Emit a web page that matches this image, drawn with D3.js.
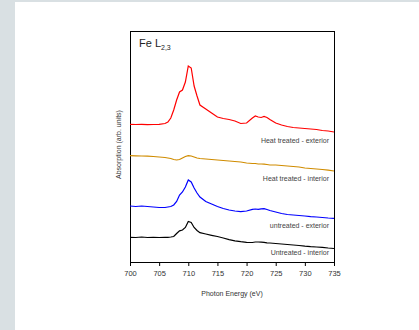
<!DOCTYPE html>
<html>
<head>
<meta charset="utf-8">
<script src="https://cdn.jsdelivr.net/npm/d3@7"></script>
<style>
	html, body { margin: 0; padding: 0; background: #d9e0e3; }
	#chart { position: absolute; left: 15px; top: 2px; width: 404px; height: 328px; background: #fff; }
	text { font-family: 'Liberation Sans', Arial, sans-serif; }
</style>
</head>
<body>
<div id="chart"></div>
<script>
var energies = [700, 701, 702, 703, 704, 705, 706, 706.5, 707, 707.5, 708, 708.5, 709, 709.5, 710, 710.5, 711, 711.5, 712, 713, 714, 715, 716, 717, 718, 719, 720, 721, 721.5, 722, 722.5, 723, 723.5, 724, 725, 726, 727, 728, 729, 730, 731, 732, 733, 734, 735];

var heatExterior = [1.377, 1.375, 1.377, 1.374, 1.375, 1.377, 1.385, 1.40, 1.44, 1.52, 1.62, 1.70, 1.72, 1.80, 1.96, 1.94, 1.76, 1.66, 1.57, 1.53, 1.49, 1.45, 1.435, 1.425, 1.41, 1.385, 1.39, 1.44, 1.46, 1.45, 1.445, 1.455, 1.445, 1.425, 1.39, 1.37, 1.355, 1.345, 1.34, 1.335, 1.33, 1.325, 1.315, 1.31, 1.30];

var heatInterior = [1.063, 1.062, 1.06, 1.058, 1.055, 1.05, 1.045, 1.04, 1.035, 1.025, 1.02, 1.025, 1.04, 1.055, 1.063, 1.06, 1.05, 1.04, 1.035, 1.03, 1.025, 1.02, 1.015, 1.01, 1.005, 1.0, 0.99, 0.985, 0.985, 0.98, 0.98, 0.978, 0.975, 0.97, 0.97, 0.965, 0.96, 0.955, 0.95, 0.94, 0.935, 0.93, 0.925, 0.918, 0.91];

var untreatedExterior = [0.56, 0.555, 0.56, 0.555, 0.55, 0.545, 0.545, 0.55, 0.555, 0.57, 0.605, 0.67, 0.70, 0.75, 0.82, 0.80, 0.74, 0.69, 0.65, 0.605, 0.58, 0.555, 0.535, 0.52, 0.51, 0.503, 0.51, 0.527, 0.53, 0.527, 0.532, 0.533, 0.525, 0.515, 0.50, 0.485, 0.475, 0.47, 0.465, 0.46, 0.453, 0.45, 0.445, 0.44, 0.437];

var untreatedInterior = [0.247, 0.245, 0.25, 0.245, 0.247, 0.245, 0.247, 0.247, 0.25, 0.255, 0.285, 0.312, 0.32, 0.345, 0.405, 0.395, 0.345, 0.315, 0.293, 0.28, 0.267, 0.255, 0.24, 0.223, 0.212, 0.203, 0.197, 0.195, 0.20, 0.20, 0.198, 0.196, 0.192, 0.19, 0.185, 0.18, 0.175, 0.17, 0.165, 0.158, 0.153, 0.15, 0.147, 0.14, 0.135];

var seriesNames = ['Heat treated - exterior', 'Heat treated - interior', 'untreated - exterior', 'Untreated - interior'];
var seriesValues = [heatExterior, heatInterior, untreatedExterior, untreatedInterior];
var seriesColors = ['#ff0000', '#d08c00', '#0000ff', '#000000'];
var labelLevels = [1.19, 0.81, 0.34, 0.07];

var xTicks = [700, 705, 710, 715, 720, 725, 730, 735];

// chart box inside the white card
var margin = { top: 29, right: 85, bottom: 68, left: 115 };
var fullW = 404, fullH = 328;
var width = fullW - margin.left - margin.right;
var height = fullH - margin.top - margin.bottom;

var svg = d3.select('#chart').append('svg')
	.attr('width', fullW)
	.attr('height', fullH)
	.append('g')
	.attr('transform', 'translate(' + margin.left + ',' + margin.top + ')');

var x = d3.scaleLinear().domain([700, 735]).range([0, width]);
var y = d3.scaleLinear().domain([0, 2.31]).range([height, 0]);

// frame
svg.append('rect')
	.attr('x', 0.5)
	.attr('y', 0.5)
	.attr('width', width)
	.attr('height', height)
	.attr('fill', 'none')
	.attr('stroke', '#000')
	.attr('stroke-width', 1);

var xAxis = d3.axisBottom(x)
	.tickValues(xTicks)
	.tickSize(4)
	.tickSizeOuter(0)
	.tickPadding(5);

var gx = svg.append('g')
	.attr('class', 'x axis')
	.attr('transform', 'translate(0,' + height + ')')
	.call(xAxis);
gx.select('.domain').attr('stroke', '#000');
gx.selectAll('line').attr('stroke', '#000');
gx.selectAll('text')
	.style('font-size', '7.5px')
	.attr('fill', '#333');

// lines
var line = d3.line()
	.x(function(d, i) { return x(energies[i]); })
	.y(function(d) { return y(d); });

seriesValues.forEach(function(vals, k) {
	svg.append('path')
		.datum(vals)
		.attr('fill', 'none')
		.attr('stroke', seriesColors[k])
		.attr('stroke-width', 1.2)
		.attr('d', line);

	svg.append('text')
		.attr('x', width - 5)
		.attr('y', y(labelLevels[k]))
		.attr('text-anchor', 'end')
		.style('font-size', '7px')
		.attr('fill', '#444')
		.text(seriesNames[k]);
});

// title
var title = svg.append('text')
	.attr('x', 9)
	.attr('y', 16)
	.style('font-size', '11px')
	.attr('fill', '#222')
	.text('Fe L');
title.append('tspan')
	.attr('dy', 3)
	.style('font-size', '7px')
	.text('2,3');

// axis labels
svg.append('text')
	.attr('x', width / 2)
	.attr('y', height + 34)
	.attr('text-anchor', 'middle')
	.style('font-size', '7px')
	.attr('fill', '#333')
	.text('Photon Energy (eV)');

svg.append('text')
	.attr('transform', 'translate(-9,' + (height / 2 - 2) + ') rotate(-90)')
	.attr('text-anchor', 'middle')
	.style('font-size', '7px')
	.attr('fill', '#333')
	.text('Absorption (arb. units)');
</script>
</body>
</html>
